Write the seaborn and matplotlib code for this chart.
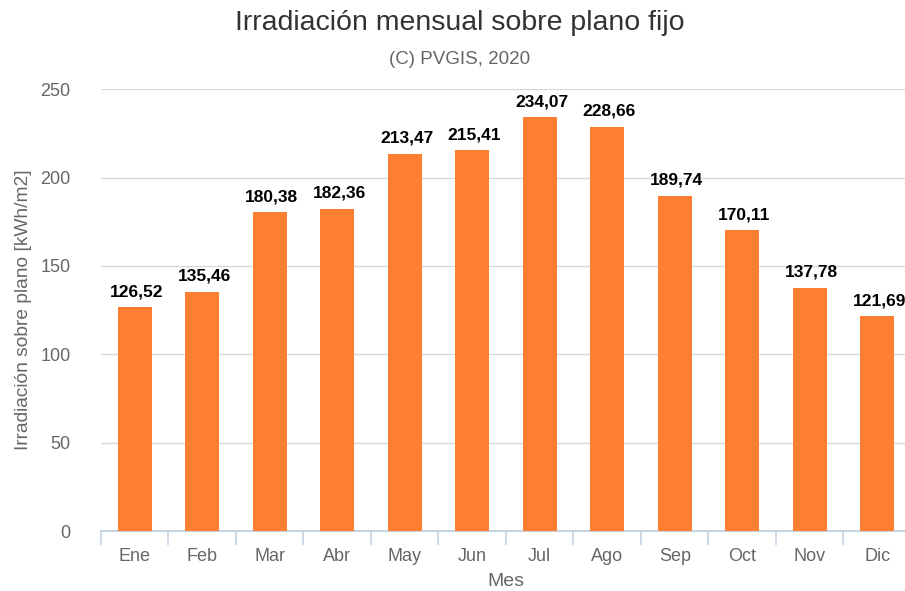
import numpy as np
import pandas as pd
import matplotlib.pyplot as plt
import seaborn as sns

sns.set_theme(style="white")
plt.rcParams['font.family'] = ['Liberation Sans', 'DejaVu Sans']

# ── Data ──────────────────────────────────────────────────
meses = ['Ene', 'Feb', 'Mar', 'Abr', 'May', 'Jun',
         'Jul', 'Ago', 'Sep', 'Oct', 'Nov', 'Dic']
irradiacion = [126.52, 135.46, 180.38, 182.36, 213.47, 215.41,
               234.07, 228.66, 189.74, 170.11, 137.78, 121.69]
y_ticks = [0, 50, 100, 150, 200, 250]

BAR_COLOR = '#FF7F32'
TEXT_GRAY = '#666666'
AXIS_BLUE = '#C5D3E2'

df = pd.DataFrame({'Mes': meses, 'Irradiacion': irradiacion})

fig = plt.figure(figsize=(9.05, 5.91), dpi=100)
ax = fig.add_axes([0.1116, 0.1015, 0.895, 0.7475])

sns.barplot(data=df, x='Mes', y='Irradiacion', ax=ax, color=BAR_COLOR,
            saturation=1, width=0.5, edgecolor='none', zorder=3)

# value labels
for i, val in enumerate(irradiacion):
    ax.text(i + 0.03, val + 4.5, f"{val:.2f}".replace('.', ','), ha='center', va='bottom',
            fontsize=12.5, fontweight='bold', color='black', clip_on=False)

ax.set_ylim(0, 250)
ax.set_xlim(-0.5, len(meses) - 0.5)
ax.set_yticks(y_ticks)
ax.yaxis.grid(True, color='#D9D9D9', linewidth=1, zorder=0)
ax.set_axisbelow(True)

for s in ['top', 'right', 'left']:
    ax.spines[s].set_visible(False)
ax.spines['bottom'].set_color(AXIS_BLUE)
ax.spines['bottom'].set_linewidth(1.5)

# tick marks between categories
ax.set_xticks(np.arange(-0.5, len(meses), 1), minor=True)
ax.tick_params(axis='x', which='minor', length=10, width=1.2, color=AXIS_BLUE, bottom=True)
ax.tick_params(axis='x', which='major', length=0, pad=12, labelsize=13, labelcolor=TEXT_GRAY)
ax.tick_params(axis='y', length=0, pad=22, labelsize=13, labelcolor=TEXT_GRAY)

ax.set_xlabel('Mes', fontsize=14, color=TEXT_GRAY, labelpad=6)
ax.set_ylabel('Irradiación sobre plano [kWh/m2]', fontsize=13.8, color=TEXT_GRAY, labelpad=6)

fig.text(0.508, 0.961, 'Irradiación mensual sobre plano fijo', ha='center', va='center',
         fontsize=20.5, color='#333333')
fig.text(0.508, 0.900, '(C) PVGIS, 2020', ha='center', va='center',
         fontsize=13.5, color=TEXT_GRAY)

plt.savefig('out.png', dpi=100)
